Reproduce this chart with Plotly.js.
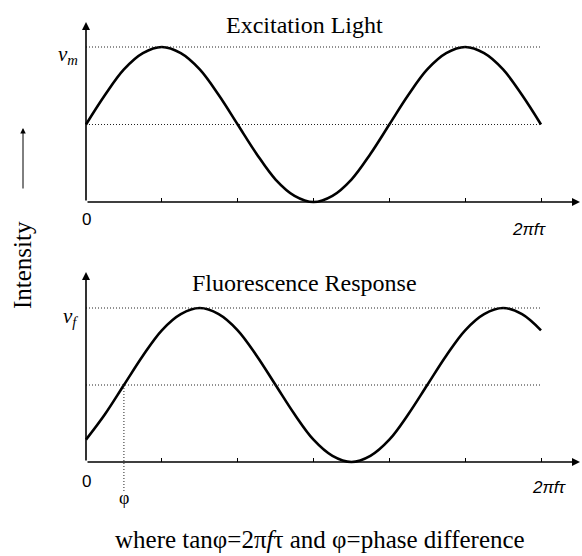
<!DOCTYPE html>
<html>
<head>
<meta charset="utf-8">
<script src="https://cdn.plot.ly/plotly-3.0.1.min.js"></script>
<style>html,body{margin:0;padding:0;background:#fff;}#chart{width:582px;height:556px;}</style>
</head>
<body>
<div id="chart"></div>
<script>
// x in units of pi (2*pi*f*tau / pi)
const phaseX = [0,0.125,0.25,0.375,0.5,0.625,0.75,0.875,1,1.125,1.25,1.375,1.5,1.625,1.75,1.875,2,2.125,2.25,2.375,2.5,2.625,2.75,2.875,3];
const excitation = [1,1.38,1.71,1.92,2,1.92,1.71,1.38,1,0.62,0.29,0.08,0,0.08,0.29,0.62,1,1.38,1.71,1.92,2,1.92,1.71,1.38,1];
const fluorescence = [0.29,0.62,1,1.38,1.71,1.92,2,1.92,1.71,1.38,1,0.62,0.29,0.08,0,0.08,0.29,0.62,1,1.38,1.71,1.92,2,1.92,1.71];
const tickPositions = [0.5,1,1.5,2,2.5,3];
const peakLevel = 2;
const meanLevel = 1;
const phi = 0.25;
const xEnd = 3;
const titles = ['Excitation Light', 'Fluorescence Response'];
const peakLabels = ['<i>ν</i><sub><i>m</i></sub>', '<i>ν</i><sub><i>f</i></sub>'];
const axisLabel = '<i>2πfτ</i>';
const yLabel = 'Intensity';
const footnote = 'where tanφ=2π<i>f</i>τ and φ=phase difference';

const W = 582, H = 556;
const SERIF = 'Liberation Serif, Times New Roman, serif';
const SANS = 'Liberation Sans, Arial, sans-serif';
const pxPerX = 455 / 3;       // pixels per x unit
const x0px = 86;
const py = v => 1 - v / H;     // pixel row -> paper
const px = v => v / W;

// top panel: axis row 202, 77.5 px per unit
const topAxis = 202, topScale = 77.5;
// bottom panel: axis row 462, 77 px per unit
const botAxis = 462, botScale = 77;

const xRange = [-(x0px - 80) / pxPerX, (W - x0px) / pxPerX];
const xArrowTip = (580 - x0px) / pxPerX;

function xaxisCfg(axisRow) {
  return {
    domain: [px(80), 1], range: xRange, anchor: 'free', position: py(axisRow),
    ticks: 'inside', ticklen: 4, tickwidth: 1, tickcolor: '#000',
    tickvals: tickPositions, showticklabels: false,
    showline: false, showgrid: false, zeroline: false, fixedrange: true
  };
}
function yaxisCfg(topPx, botPx, axisRow, scale) {
  return {
    domain: [py(botPx), py(topPx)],
    range: [-(botPx - axisRow) / scale, (axisRow - topPx) / scale],
    showline: false, showgrid: false, zeroline: false, showticklabels: false,
    ticks: '', fixedrange: true
  };
}

const traces = [
  {x: phaseX, y: excitation, xaxis: 'x', yaxis: 'y', type: 'scatter', mode: 'lines',
   line: {color: '#000', width: 2.6, shape: 'spline', smoothing: 1}, hoverinfo: 'skip'},
  {x: phaseX, y: fluorescence, xaxis: 'x2', yaxis: 'y2', type: 'scatter', mode: 'lines',
   line: {color: '#000', width: 2.6, shape: 'spline', smoothing: 1}, hoverinfo: 'skip'}
];

const dotLine = {color: '#222', width: 1, dash: '1px,2px'};
const shapes = [];
[['x','y'],['x2','y2']].forEach(([xr, yr]) => {
  [peakLevel, meanLevel].forEach(lv => {
    shapes.push({type: 'line', xref: xr, yref: yr, x0: 0, x1: xEnd, y0: lv, y1: lv, line: dotLine});
  });
});
// phase marker
shapes.push({type: 'line', xref: 'x2', yref: 'y2', x0: phi, x1: phi, y0: meanLevel, y1: -(493 - botAxis) / botScale, line: dotLine});

function axisArrow(xr, yr, hx, hy) {
  return {xref: xr, yref: yr, axref: xr, ayref: yr, x: hx, y: hy, ax: 0, ay: 0,
          text: '', showarrow: true, arrowhead: 2, arrowsize: 1, arrowwidth: 1.6,
          arrowcolor: '#000', standoff: 0, startstandoff: 0};
}

const annotations = [
  axisArrow('x', 'y', xArrowTip, 0),
  axisArrow('x', 'y', 0, (topAxis - 22) / topScale),
  axisArrow('x2', 'y2', xArrowTip, 0),
  axisArrow('x2', 'y2', 0, (botAxis - 272) / botScale),
  // titles
  {xref: 'paper', yref: 'paper', x: px(304), y: py(25), text: titles[0], showarrow: false,
   xanchor: 'center', yanchor: 'middle', font: {family: SERIF, size: 24, color: '#000'}},
  {xref: 'paper', yref: 'paper', x: px(304), y: py(283), text: titles[1], showarrow: false,
   xanchor: 'center', yanchor: 'middle', font: {family: SERIF, size: 24, color: '#000'}},
  // peak labels
  {xref: 'paper', yref: 'paper', x: px(68), y: py(55), text: peakLabels[0], showarrow: false,
   xanchor: 'center', yanchor: 'middle', font: {family: SERIF, size: 21, color: '#000'}},
  {xref: 'paper', yref: 'paper', x: px(70), y: py(317), text: peakLabels[1], showarrow: false,
   xanchor: 'center', yanchor: 'middle', font: {family: SERIF, size: 21, color: '#000'}},
  // zero labels
  {xref: 'x', yref: 'paper', x: 0, y: py(219), text: '0', showarrow: false,
   xanchor: 'center', yanchor: 'middle', font: {family: SANS, size: 17, color: '#000'}},
  {xref: 'x2', yref: 'paper', x: 0, y: py(481), text: '0', showarrow: false,
   xanchor: 'center', yanchor: 'middle', font: {family: SANS, size: 17, color: '#000'}},
  // x labels
  {xref: 'paper', yref: 'paper', x: px(529), y: py(229), text: axisLabel, showarrow: false,
   xanchor: 'center', yanchor: 'middle', font: {family: SANS, size: 17, color: '#000'}},
  {xref: 'paper', yref: 'paper', x: px(549), y: py(487), text: axisLabel, showarrow: false,
   xanchor: 'center', yanchor: 'middle', font: {family: SANS, size: 17, color: '#000'}},
  // phi label
  {xref: 'x2', yref: 'paper', x: phi, y: py(498), text: 'φ', showarrow: false,
   xanchor: 'center', yanchor: 'middle', font: {family: SERIF, size: 18, color: '#000'}},
  // Intensity label and arrow
  {xref: 'paper', yref: 'paper', x: px(23), y: py(265), text: yLabel, textangle: -90, showarrow: false,
   xanchor: 'center', yanchor: 'middle', font: {family: SERIF, size: 25, color: '#000'}},
  {xref: 'paper', yref: 'paper', x: px(23), y: py(128), ax: 0, ay: 62, text: '', showarrow: true,
   arrowhead: 2, arrowsize: 1.1, arrowwidth: 1, arrowcolor: '#000', standoff: 0},
  // footnote
  {xref: 'paper', yref: 'paper', x: px(320), y: py(539), text: footnote, showarrow: false,
   xanchor: 'center', yanchor: 'middle', font: {family: SERIF, size: 25, color: '#000'}}
];

const layout = {
  width: W, height: H, autosize: false,
  margin: {l: 0, r: 0, t: 0, b: 0, pad: 0},
  paper_bgcolor: '#fff', plot_bgcolor: 'rgba(0,0,0,0)',
  showlegend: false,
  xaxis: xaxisCfg(topAxis),
  yaxis: yaxisCfg(18, 206, topAxis, topScale),
  xaxis2: xaxisCfg(botAxis),
  yaxis2: yaxisCfg(268, 500, botAxis, botScale),
  shapes: shapes,
  annotations: annotations
};

Plotly.newPlot('chart', traces, layout, {staticPlot: true, displayModeBar: false});
</script>
</body>
</html>
